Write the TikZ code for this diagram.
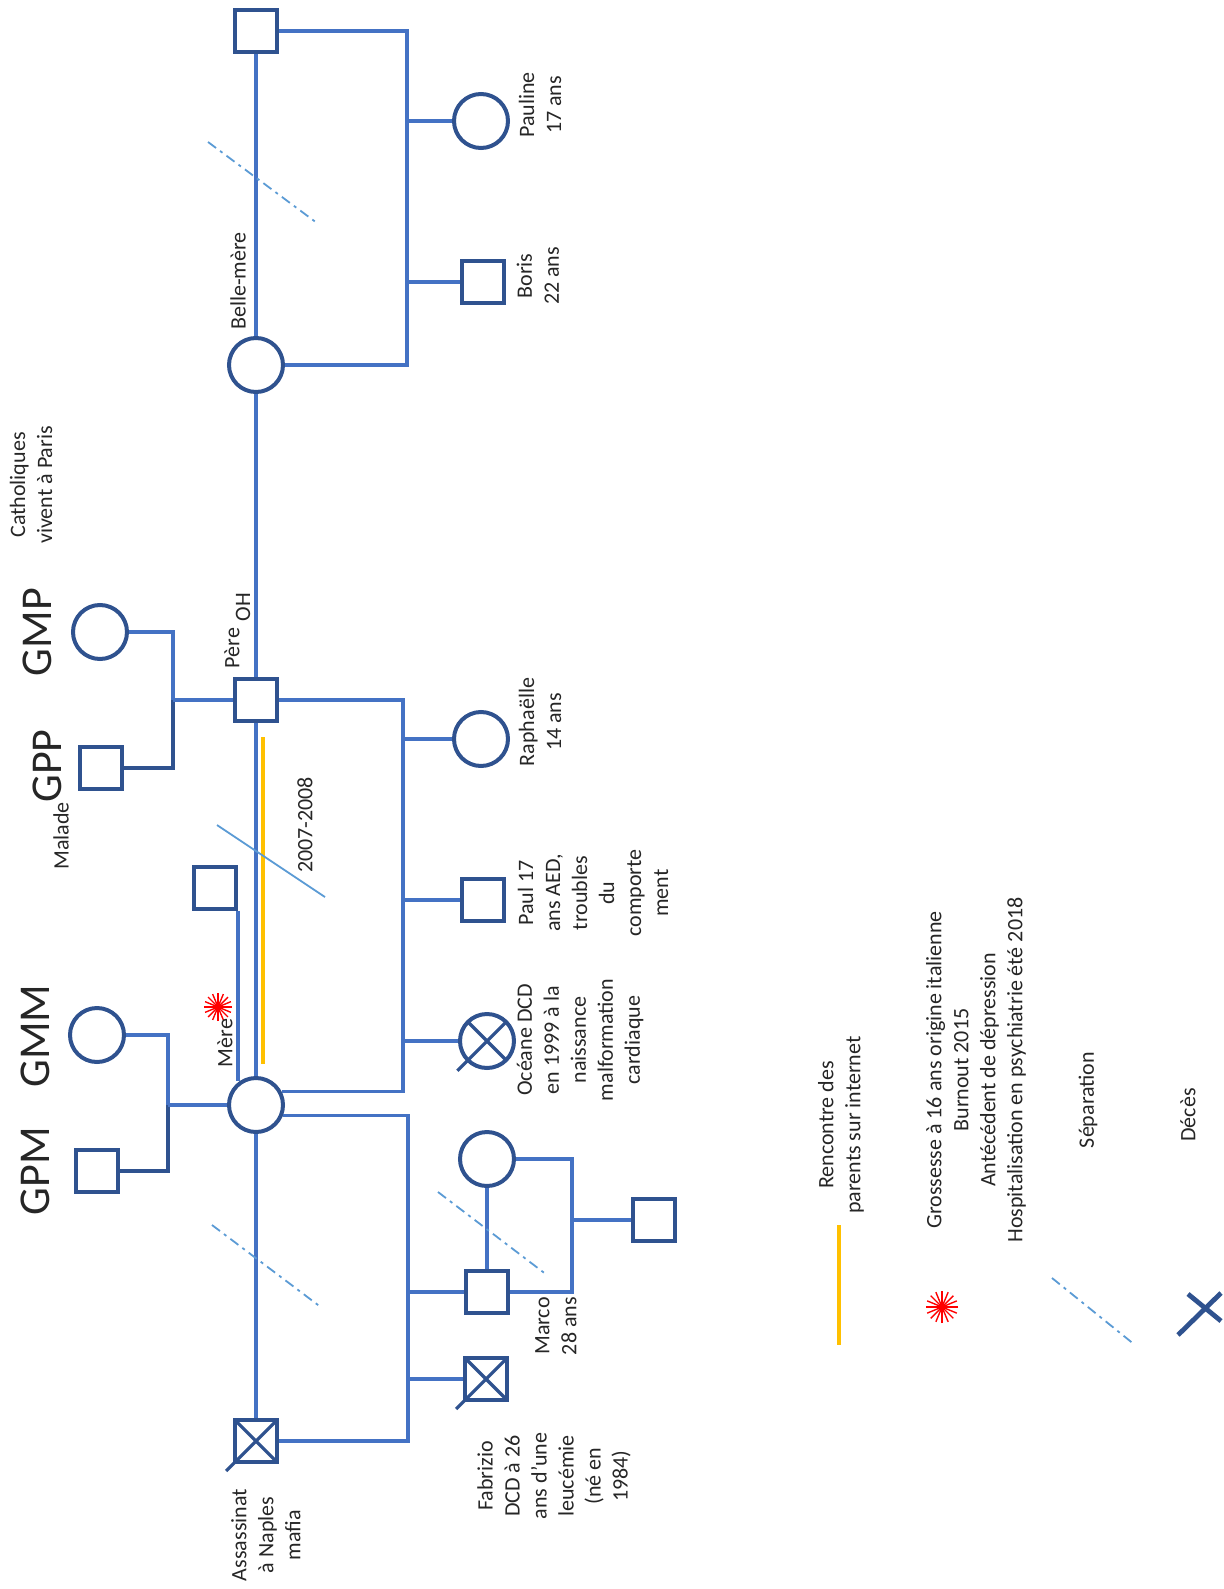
\documentclass[tikz,border=0pt]{standalone}
\usepackage{fontspec}
\setmainfont{Carlito}
\usepackage{xcolor}
\definecolor{gnline}{RGB}{68,114,196}
\definecolor{gnframe}{RGB}{47,82,143}
\definecolor{gnsep}{RGB}{91,155,213}
\definecolor{gnyellow}{RGB}{255,192,0}
\usepackage{tikz}
\usetikzlibrary{calc}
\tikzset{
  gn_male/.style={rectangle,draw=gnframe,line width=2pt,fill=white,minimum size=21pt,inner sep=0pt},
  gn_female/.style={circle,draw=gnframe,line width=2pt,fill=white,minimum size=27pt,inner sep=0pt},
  gn_lbl/.style={rotate=90,align=center,font=\fontsize{11}{13.5}\selectfont,text=black!85,inner sep=0pt},
  gn_big/.style={rotate=90,font=\fontsize{22}{26}\selectfont,text=black!85,inner sep=0pt},
  gn_link/.style={draw=gnline,line width=1.6pt},
  gn_sep/.style={draw=gnsep,line width=0.9pt,dash pattern=on 5pt off 2.5pt on 1.5pt off 2.5pt},
  gn_cut/.style={draw=gnsep,line width=0.9pt},
  gn_meet/.style={draw=gnyellow,line width=2pt},
  gn_dead/.style={draw=gnframe,line width=1.6pt},
}
\newcommand{\gndead}[2]{%
  \draw[gn_dead] ($(#1.center)!0.9!(#1.north west)$) -- ($(#1.center)!0.9!(#1.south east)$);
  \draw[gn_dead] ($(#1.center)!0.9!(#1.north east)$) -- ($(#1.center)!#2!(#1.south west)$);}
\newcommand{\gnstar}[2]{%
  \foreach \a in {0,22.5,...,157.5}
    \draw[red,line width=0.7pt] ($(#1)+(\a:#2)$) -- ($(#1)+(\a+180:#2)$);
  \fill[red] (#1) circle (1.8pt);}

\begin{document}
\begin{tikzpicture}[x=0.5pt,y=-0.5pt]
  \useasboundingbox[fill=white] (0,0) rectangle (1223,1589);

  \node (bmex) [gn_male] at (256,31) {};
  \node (bm) [gn_female] at (256,365) {};
  \node (pauline) [gn_female] at (481,121) {};
  \node (boris) [gn_male] at (483,282) {};
  \node (gmp) [gn_female] at (100,632) {};
  \node (gpp) [gn_male] at (101,768) {};
  \node (pere) [gn_male] at (256,700) {};
  \node (raph) [gn_female] at (481,739) {};
  \node (paul) [gn_male] at (483,900) {};
  \node (oceane) [gn_female] at (487,1041) {};
  \node (mereb) [gn_male] at (215,888) {};
  \node (gmm) [gn_female] at (97,1035) {};
  \node (gpm) [gn_male] at (97,1171) {};
  \node (mere) [gn_female] at (256,1105) {};
  \node (marcof) [gn_female] at (487,1159) {};
  \node (marcoc) [gn_male] at (654,1220) {};
  \node (marco) [gn_male] at (487,1292) {};
  \node (fabrizio) [gn_male] at (486,1379) {};
  \node (assas) [gn_male] at (256,1441) {};

  \coordinate (kidsB) at (407,200);
  \coordinate (jP) at (173,700);
  \coordinate (jM) at (168,1105);
  \coordinate (kidsP) at (403,900);
  \coordinate (kidsM) at (408,1300);
  \coordinate (kidsMa) at (572,1250);

  \draw[gn_link] (bmex) -- (bm); \draw[gn_link] (bm) -- (pere);
  \draw[gn_link] (pere) -- (mere); \draw[gn_link] (mere) -- (assas);
  \draw[gn_link] (bmex.east) -| (kidsB) |- (bm.east);
  \draw[gn_link] (pauline.west) -- (pauline.west -| kidsB);
  \draw[gn_link] (boris.west) -- (boris.west -| kidsB);
  \draw[gn_link] (gmp.east) -| (jP); \draw[gn_link,draw=gnframe] (gpp.east) -| (jP);
  \draw[gn_link] (jP) -- (pere.west);
  \draw[gn_link] (gmm.east) -| (jM); \draw[gn_link,draw=gnframe] (gpm.east) -| (jM);
  \draw[gn_link] (jM) -- (mere.west);
  \draw[gn_link] (pere.east) -| (kidsP) |- (mere.28);
  \draw[gn_link] (raph.west) -- (raph.west -| kidsP);
  \draw[gn_link] (paul.west) -- (paul.west -| kidsP);
  \draw[gn_link] (oceane.west) -- (oceane.west -| kidsP);
  \draw[gn_link] (mere.-22) -| (kidsM) |- (assas.east);
  \draw[gn_link] (marco.west) -- (marco.west -| kidsM);
  \draw[gn_link] (fabrizio.west) -- (fabrizio.west -| kidsM);
  \draw[gn_link] (marcof) -- (marco);
  \draw[gn_link] (marcof.east) -| (kidsMa) |- (marco.east);
  \draw[gn_link] (marcoc.west) -- (marcoc.west -| kidsMa);
  \draw[gn_link] (mereb.south east) -- (mereb.south east |- mere.125);

  \gndead{assas}{1.3} \gndead{fabrizio}{1.3} \gndead{oceane}{1.45}

  \draw[gn_meet] (262.5,737) -- (262.5,1064);
  \draw[gn_cut] (217,825) -- (325,897);
  \draw[gn_sep] (208,142) -- (317,223);
  \draw[gn_sep] (212,1225) -- (322,1308);
  \draw[gn_sep] (438,1192) -- (547,1275);
  \coordinate (starM) at (218,1007);
  \gnstar{starM}{14}

  \node (lbm) [gn_lbl] at (238,281) {Belle-mère};
  \node (lpauline) [gn_lbl] at (540,105) {Pauline\\17 ans};
  \node (lboris) [gn_lbl] at (538,276) {Boris\\22 ans};
  \node (lcath) [gn_lbl] at (31,485) {Catholiques\\vivent à Paris};
  \node (tgmp) [gn_big] at (37,632) {GMP};
  \node (tgpp) [gn_big] at (47,766) {GPP};
  \node (tmalade) [gn_lbl] at (61,836) {Malade};
  \node (lpere) [gn_lbl] at (232,648) {Père};
  \node (loh) [gn_lbl] at (243,607) {OH};
  \node (ldate) [gn_lbl] at (305,825) {2007-2008};
  \node (lraph) [gn_lbl] at (540,722) {Raphaëlle\\14 ans};
  \node (lpaul) [gn_lbl] at (593,893) {Paul 17\\ans AED,\\troubles\\du\\comporte\\ment};
  \node (loceane) [gn_lbl] at (580,1040) {Océane DCD\\en 1999 à la\\naissance\\malformation\\cardiaque};
  \node (tgmm) [gn_big] at (35,1036) {GMM};
  \node (tgpm) [gn_big] at (35,1171) {GPM};
  \node (lmere) [gn_lbl] at (225,1043) {Mère};
  \node (lmarco) [gn_lbl] at (556,1326) {Marco\\28 ans};
  \node (lfab) [gn_lbl] at (554,1476) {Fabrizio\\DCD à 26\\ans d’une\\leucémie\\(né en\\1984)};
  \node (lassas) [gn_lbl] at (266,1535) {Assassinat\\à Naples\\mafia};

  \node (kmeet) [gn_lbl] at (841,1125) {Rencontre des\\parents sur internet};
  \node (kmere) [gn_lbl] at (976,1070) {Grossesse à 16 ans origine italienne\\Burnout 2015\\Antécédent de dépression\\Hospitalisation en psychiatrie été 2018};
  \node (ksep) [gn_lbl] at (1088,1100) {Séparation};
  \node (kdead) [gn_lbl] at (1188,1115) {Décès};
  \draw[gn_meet] (839,1225) -- (839,1345);
  \coordinate (starL) at (942,1307);
  \gnstar{starL}{16}
  \draw[gn_sep] (1052,1278) -- (1135,1345);
  \draw[gn_dead,line width=2.4pt] (1178,1335) -- (1221,1293);
  \draw[gn_dead,line width=2.4pt] (1188,1294) -- (1221,1321);
\end{tikzpicture}
\end{document}
